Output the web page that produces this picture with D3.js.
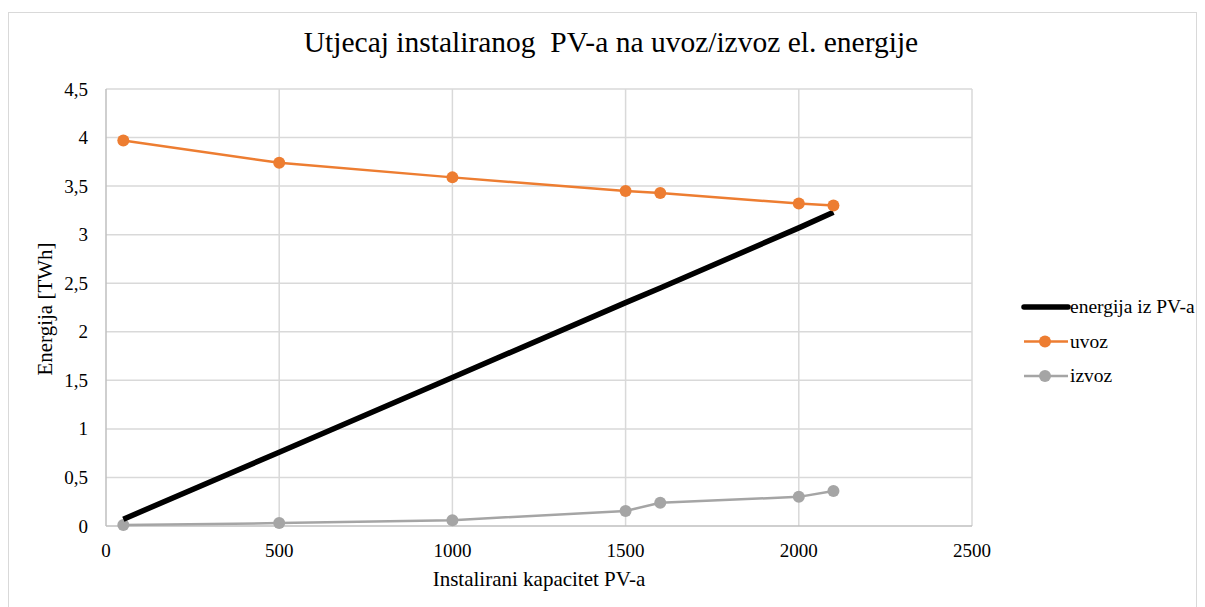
<!DOCTYPE html>
<html>
<head>
<meta charset="utf-8">
<script src="https://cdn.jsdelivr.net/npm/d3@7"></script>
<style>
  body { margin: 0; background: #fff; }
  svg text { font-family: "Liberation Serif"; fill: #000; }
</style>
</head>
<body>
<script>
// data
const kapacitet = [50, 500, 1000, 1500, 1600, 2000, 2100];
const energijaPV = [0.07, 0.76, 1.53, 2.30, 2.45, 3.07, 3.23];
const uvoz = [3.97, 3.74, 3.59, 3.45, 3.43, 3.32, 3.30];
const izvoz = [0.01, 0.03, 0.06, 0.155, 0.24, 0.30, 0.36];
const xTicks = [0, 500, 1000, 1500, 2000, 2500];
const yTicks = [0, 0.5, 1, 1.5, 2, 2.5, 3, 3.5, 4, 4.5];

const W = 1205, H = 607;
const svg = d3.select('body').append('svg')
  .attr('width', W)
  .attr('height', H);

// outer chart border
svg.append('rect')
  .attr('x', 8.5).attr('y', 12.5)
  .attr('width', 1188).attr('height', 600)
  .attr('fill', 'none')
  .attr('stroke', '#d9d9d9');

const x = d3.scaleLinear().domain([0, 2500]).range([106, 972]);
const y = d3.scaleLinear().domain([0, 4.5]).range([526, 89]);

// gridlines
svg.append('g').selectAll('line')
  .data(yTicks.slice(1))
  .join('line')
  .attr('x1', x(0)).attr('x2', x(2500))
  .attr('y1', d => y(d)).attr('y2', d => y(d))
  .attr('stroke', '#d9d9d9').attr('stroke-width', 1.5);

svg.append('g').selectAll('line')
  .data(xTicks.slice(1))
  .join('line')
  .attr('x1', d => x(d)).attr('x2', d => x(d))
  .attr('y1', y(0)).attr('y2', y(4.5))
  .attr('stroke', '#d9d9d9').attr('stroke-width', 1.5);

// axis lines
svg.append('line')
  .attr('x1', x(0)).attr('x2', x(0)).attr('y1', y(0)).attr('y2', y(4.5))
  .attr('stroke', '#bfbfbf').attr('stroke-width', 1.5);
svg.append('line')
  .attr('x1', x(0)).attr('x2', x(2500)).attr('y1', y(0)).attr('y2', y(0))
  .attr('stroke', '#bfbfbf').attr('stroke-width', 1.5);

// tick labels
const fmt = d => String(d).replace('.', ',');
svg.append('g').selectAll('text')
  .data(yTicks)
  .join('text')
  .attr('x', 88)
  .attr('y', d => y(d) + 6.5)
  .attr('text-anchor', 'end')
  .attr('font-size', 19)
  .text(fmt);

svg.append('g').selectAll('text')
  .data(xTicks)
  .join('text')
  .attr('x', d => x(d))
  .attr('y', 557)
  .attr('text-anchor', 'middle')
  .attr('font-size', 19)
  .text(d => d);

// titles
svg.append('text')
  .attr('x', 611).attr('y', 52)
  .attr('text-anchor', 'middle')
  .attr('font-size', 29.5)
  .style('white-space', 'pre')
  .text('Utjecaj instaliranog  PV-a na uvoz/izvoz el. energije');

svg.append('text')
  .attr('x', 539).attr('y', 586)
  .attr('text-anchor', 'middle')
  .attr('font-size', 21)
  .text('Instalirani kapacitet PV-a');

svg.append('text')
  .attr('transform', 'translate(52,309) rotate(-90)')
  .attr('text-anchor', 'middle')
  .attr('font-size', 21)
  .text('Energija [TWh]');

// series
const series = [
  { name: 'energija iz PV-a', values: energijaPV, color: '#000000', width: 5.5, marker: false },
  { name: 'uvoz', values: uvoz, color: '#ed7d31', width: 2.5, marker: true },
  { name: 'izvoz', values: izvoz, color: '#a5a5a5', width: 2.5, marker: true }
];

const line = d3.line()
  .x(d => x(d[0]))
  .y(d => y(d[1]));

// grey first, then black, then orange
[series[2], series[0], series[1]].forEach(s => {
  const pts = kapacitet.map((k, i) => [k, s.values[i]]);
  svg.append('path')
    .datum(pts)
    .attr('d', line)
    .attr('fill', 'none')
    .attr('stroke', s.color)
    .attr('stroke-width', s.width)
    .attr('stroke-linejoin', 'round');
  if (s.marker) {
    svg.append('g').selectAll('circle')
      .data(pts)
      .join('circle')
      .attr('cx', d => x(d[0]))
      .attr('cy', d => y(d[1]))
      .attr('r', 6)
      .attr('fill', s.color);
  }
});

// legend
const legend = svg.append('g');
series.forEach((s, i) => {
  const ly = 307 + i * 34.5;
  legend.append('line')
    .attr('x1', 1024).attr('x2', 1068)
    .attr('y1', ly).attr('y2', ly)
    .attr('stroke', s.color)
    .attr('stroke-width', s.width)
    .attr('stroke-linecap', s.marker ? 'butt' : 'round');
  if (s.marker) {
    legend.append('circle')
      .attr('cx', 1045).attr('cy', ly).attr('r', 6)
      .attr('fill', s.color);
  }
  legend.append('text')
    .attr('x', 1070).attr('y', ly + 6)
    .attr('font-size', 19.5)
    .text(s.name);
});
</script>
</body>
</html>
